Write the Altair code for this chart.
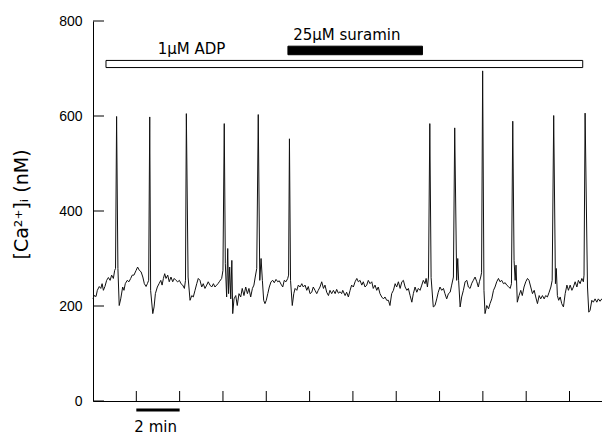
import altair as alt
import pandas as pd

# ---- trace: time (min) and [Ca2+]i (nM) ----
time_min = [
    0.00, 0.05, 0.14, 0.20, 0.29, 0.36, 0.42, 0.48, 0.55, 0.63, 0.71, 0.79, 0.86, 0.94, 1.00, 1.04,
    1.09, 1.15, 1.21, 1.28, 1.37, 1.43, 1.49, 1.58, 1.66, 1.74, 1.81, 1.89, 1.99, 2.06, 2.14, 2.22, 2.30, 2.37, 2.45, 2.51, 2.57,
    2.62, 2.66, 2.76, 2.82, 2.88, 2.97, 3.05, 3.13, 3.19, 3.25, 3.31, 3.37, 3.45, 3.52, 3.60, 3.68, 3.75, 3.83, 3.91, 3.99, 4.06, 4.14, 4.22, 4.27,
    4.31, 4.39, 4.48, 4.56, 4.63, 4.71, 4.79, 4.86, 4.94, 5.02, 5.09, 5.17, 5.25, 5.32, 5.40, 5.48, 5.56, 5.63, 5.71, 5.77, 5.83, 5.94, 6.00,
    6.06, 6.11, 6.17, 6.22, 6.26, 6.31, 6.36, 6.41, 6.45, 6.51, 6.59, 6.66, 6.74, 6.82, 6.89, 6.97, 7.05, 7.13, 7.20, 7.28, 7.36, 7.43, 7.49, 7.56,
    7.63, 7.70, 7.76, 7.82, 7.88, 7.94, 8.00, 8.07, 8.14, 8.22, 8.30, 8.37, 8.45, 8.53, 8.60, 8.68, 8.76, 8.83, 8.91, 8.99, 9.03,
    9.07, 9.12, 9.20, 9.27, 9.33, 9.41, 9.48, 9.56, 9.64, 9.71,
    9.79, 9.87, 9.94, 10.02, 10.10, 10.17, 10.25, 10.33, 10.40, 10.48,
    10.56, 10.64, 10.71, 10.79, 10.87, 10.94, 11.02, 11.10, 11.18, 11.25,
    11.33, 11.41, 11.48, 11.53, 11.64, 11.71, 11.79, 11.87, 11.94, 12.02,
    12.10, 12.18, 12.25, 12.33, 12.41, 12.48, 12.56, 12.64, 12.71, 12.79,
    12.87, 12.94, 13.02, 13.10, 13.17, 13.25, 13.33, 13.41, 13.48, 13.56,
    13.64, 13.71, 13.79, 13.87, 13.95, 14.02, 14.10, 14.18, 14.26, 14.33,
    14.41, 14.49, 14.56, 14.64, 14.72, 14.79, 14.87, 14.95, 15.02, 15.10,
    15.18, 15.25, 15.33, 15.38, 15.44, 15.49,
    15.55, 15.61, 15.71, 15.79, 15.87, 15.94, 16.02, 16.10, 16.18, 16.25, 16.33, 16.41, 16.49, 16.56, 16.64,
    16.70, 16.79, 16.84, 16.88, 16.95, 17.02, 17.10, 17.18, 17.26, 17.33, 17.41, 17.49, 17.56, 17.64, 17.72, 17.79, 17.84, 17.90, 17.94,
    17.99, 18.05, 18.10, 18.18, 18.26, 18.33, 18.41, 18.49, 18.56, 18.64, 18.72, 18.79, 18.87, 18.95, 19.03, 19.10, 19.18, 19.26, 19.32,
    19.38, 19.44, 19.49, 19.53, 19.59, 19.67, 19.75, 19.82, 19.90, 19.98, 20.06, 20.13, 20.21, 20.29, 20.37, 20.44, 20.52, 20.60, 20.67, 20.75, 20.83, 20.90, 20.98, 21.06, 21.14, 21.20,
    21.27, 21.35, 21.39, 21.44, 21.50, 21.57, 21.64, 21.72, 21.80, 21.88, 21.95, 22.03, 22.11, 22.18, 22.26, 22.34, 22.41, 22.49, 22.57, 22.64, 22.67,
    22.72, 22.83, 22.89, 22.95, 23.03, 23.10, 23.18, 23.26, 23.33, 23.41, 23.49, 23.56, 23.64, 23.72, 23.84,
]
ca_nM = [
    215, 222, 220, 233, 241, 237, 247, 233, 241, 254, 260, 254, 265, 258, 275, 279,
    599, 279, 201, 215, 240, 233, 247, 254, 251, 258, 265, 265, 275, 282, 275, 272, 261, 247, 241, 247, 254,
    598, 233, 184, 198, 226, 240, 247, 254, 244, 258, 268, 258, 265, 251, 261, 251, 258, 254, 251, 254, 247, 244, 237, 254,
    605, 261, 212, 222, 219, 233, 247, 258, 254, 240, 247, 237, 244, 251, 244, 240, 247, 240, 244, 247, 251, 258, 275,
    584, 289, 219, 321, 226, 282, 215, 296, 184, 215, 222, 201, 226, 219, 237, 222, 240, 226, 237, 219, 237, 244, 261, 279,
    603, 254, 300, 254, 212, 205, 212, 226, 240, 251, 254, 249, 256, 251, 253, 246, 240, 254, 251, 258, 265,
    552, 254, 201, 226, 237, 233, 244, 240, 247, 240,
    244, 233, 241, 226, 229, 240, 233, 226, 233, 240,
    251, 237, 244, 229, 222, 233, 226, 233, 226, 235,
    227, 230, 226, 233, 222, 229, 219, 233, 244, 240,
    251, 258, 251, 254, 244, 251, 240, 244, 254, 247,
    251, 237, 244, 233, 240, 226, 219, 215, 219, 212,
    212, 201, 226, 233, 247, 240, 251, 237, 251, 254,
    240, 233, 237, 222, 208, 226, 240, 229, 237, 233,
    244, 254, 247, 258, 240, 261,
    584, 260, 198, 201, 215, 229, 240, 233, 237, 226, 215, 226, 229, 244, 261,
    575, 254, 300, 254, 198, 219, 233, 251, 254, 240, 237, 248, 254, 261, 251, 240, 251, 261, 270,
    695, 233, 184, 201, 194, 205, 215, 233, 240, 251, 258, 251, 254, 247, 249, 244, 241, 237, 247,
    589, 296, 254, 286, 208, 222, 233, 222, 240, 251, 258, 254, 240, 226, 233, 219, 205, 222, 215, 222, 215, 222, 219, 229, 240, 254,
    601, 247, 279, 222, 212, 219, 205, 198, 226, 244, 233, 244, 233, 240, 251, 240, 254, 247, 258, 251, 265,
    606, 240, 187, 191, 212, 208, 215, 208, 215, 210, 215, 208, 215, 208, 212,
]

# ---- axes ----
y_ticks = [0, 200, 400, 600, 800]
x_ticks = [2, 4, 6, 8, 10, 12, 14, 16, 18, 20, 22]
x_domain = [0, 23.5]
y_domain = [0, 800]

# ---- application bars ----
bar_label = ["1μM ADP", "25μM suramin"]
bar_start = [0.60, 9.00]
bar_end = [22.61, 15.21]
bar_low = [702, 729]
bar_high = [717, 747]
bar_fill = ["white", "black"]
label_t = [2.99, 9.24]
label_v = [730, 761]

# ---- time scale bar ----
scalebar_start = [2]
scalebar_end = [4]
scalebar_text = ["2 min"]

W, H = 509, 380
FONT = "Liberation Sans"

xs = alt.Scale(domain=x_domain, nice=False, zero=False)
ys = alt.Scale(domain=y_domain, nice=False, zero=False)
xaxis = alt.Axis(labels=False, ticks=False, tickSize=0, grid=False,
                 domainColor="black", domainWidth=1)
yaxis = alt.Axis(values=y_ticks, ticks=False, tickSize=0, grid=False,
                 domainColor="black", domainWidth=1,
                 labelPadding=11, labelFont=FONT, labelFontSize=14, labelColor="black",
                 titleFont="DejaVu Sans", titleFontSize=19, titleFontWeight="normal",
                 titleColor="black", titlePadding=27, titleY=183)
X = alt.X("t:Q", scale=xs, axis=xaxis, title=None)
Y = alt.Y("v:Q", scale=ys, axis=yaxis, title="[Ca²⁺]ᵢ (nM)")

trace_df = pd.DataFrame({"t": time_min, "v": ca_nM})
trace = alt.Chart(trace_df).mark_line(color="#111111", strokeWidth=1).encode(x=X, y=Y)

ytick_df = pd.DataFrame({"v": y_ticks})
yticks = alt.Chart(ytick_df).mark_rule(color="black", strokeWidth=1).encode(
    y=Y, x=alt.value(0), x2=alt.value(11))

xtick_df = pd.DataFrame({"t": x_ticks})
xticks = alt.Chart(xtick_df).mark_rule(color="black", strokeWidth=1).encode(
    x=X, y=alt.value(H), y2=alt.value(H - 10))

bars_df = pd.DataFrame({"t": bar_start, "t2": bar_end, "v": bar_low, "v2": bar_high,
                        "fill": bar_fill})
bars = alt.Chart(bars_df).mark_rect(stroke="black", strokeWidth=1).encode(
    x=X, x2="t2:Q", y=Y, y2="v2:Q",
    fill=alt.Fill("fill:N", scale=None))

labels_df = pd.DataFrame({"t": label_t, "v": label_v, "label": bar_label})
labels = alt.Chart(labels_df).mark_text(
    align="left", baseline="alphabetic", font="DejaVu Sans", fontSize=15, color="black"
).encode(x=X, y=Y, text="label:N")

sb_df = pd.DataFrame({"t": scalebar_start, "t2": scalebar_end, "label": scalebar_text})
scalebar = alt.Chart(sb_df).mark_rule(color="black", strokeWidth=3).encode(
    x=X, x2="t2:Q", y=alt.value(H + 9))
scalebar_label = alt.Chart(sb_df).mark_text(
    align="left", baseline="middle", font="DejaVu Sans", fontSize=15, color="black", dx=-2
).encode(x=X, y=alt.value(H + 26), text="label:N")

chart = alt.layer(trace, yticks, xticks, bars, labels, scalebar, scalebar_label).properties(
    width=W, height=H,
    autosize=alt.AutoSizeParams(type="none"),
    padding={"left": 85, "top": 13, "right": 0, "bottom": 34},
    background="white",
).configure_view(stroke=None)

chart.save("out.html", embed_options={"renderer": "svg", "actions": False})
